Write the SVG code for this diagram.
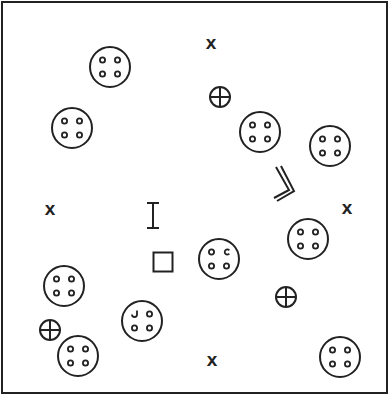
<svg xmlns="http://www.w3.org/2000/svg" width="389" height="396" viewBox="0 0 389 396">
<style>
.b{fill:none;stroke:#222;stroke-width:2}
.d{fill:none;stroke:#222;stroke-width:1.8}
.x{font-family:"Liberation Sans",Arial,sans-serif;font-weight:bold;font-size:19px;fill:#222;text-anchor:middle}
</style>
<defs>
<g id="dots"><circle class="d" cx="-7.5" cy="-7" r="2.6"/><circle class="d" cx="7.5" cy="-7" r="2.6"/><circle class="d" cx="-7.5" cy="7" r="2.6"/><circle class="d" cx="7.5" cy="7" r="2.6"/></g>
<g id="btn"><circle class="b" r="20"/><use href="#dots"/></g>
<g id="cross"><circle class="b" r="10"/><path class="b" d="M-10 0H10M0 -10V10"/></g>
</defs>
<rect class="b" x="2" y="2" width="385" height="391"/>
<g id="btn1"><use href="#btn" x="110" y="67"/></g>
<g id="btn2"><use href="#btn" x="72" y="128"/></g>
<g id="btn3"><use href="#btn" x="260" y="132"/></g>
<g id="btn4"><use href="#btn" x="330" y="146"/></g>
<g id="btn5"><use href="#btn" x="308" y="239"/></g>
<g id="btn6"><circle class="b" cx="219" cy="259" r="20"/><circle class="d" cx="211.5" cy="252" r="2.6"/><path class="d" d="M229.3 250.3A2.6 2.6 0 1 0 229.3 253.7"/><circle class="d" cx="211.5" cy="266" r="2.6"/><circle class="d" cx="226.5" cy="266" r="2.6"/></g>
<g id="btn7"><use href="#btn" x="64" y="286"/></g>
<g id="btn8"><circle class="b" cx="142" cy="321" r="20"/><path class="d" d="M137 310.5V314.5A2.5 2.5 0 0 1 132 314.5"/><circle class="d" cx="149.5" cy="314" r="2.6"/><circle class="d" cx="134.5" cy="328" r="2.6"/><circle class="d" cx="149.5" cy="328" r="2.6"/></g>
<g id="btn9"><use href="#btn" x="78" y="356"/></g>
<g id="btn10"><use href="#btn" x="340" y="357"/></g>
<g id="cross1"><use href="#cross" x="220" y="97"/></g>
<g id="cross2"><use href="#cross" x="50" y="330"/></g>
<g id="cross3"><use href="#cross" x="286" y="297"/></g>
<g id="x1"><text class="x" x="211" y="49">x</text></g>
<g id="x2"><text class="x" x="50" y="215">x</text></g>
<g id="x3"><text class="x" x="347" y="214">x</text></g>
<g id="x4"><text class="x" x="212" y="366">x</text></g>
<g id="ibeam"><path class="b" d="M147 203H159M153 203V228M147 228H159"/></g>
<g id="square"><rect class="b" x="153.5" y="252.5" width="19" height="19"/></g>
<g id="chevron"><path class="b" d="M276 167L289 190L274 198M281 166L294 191L277 201"/></g>
</svg>
